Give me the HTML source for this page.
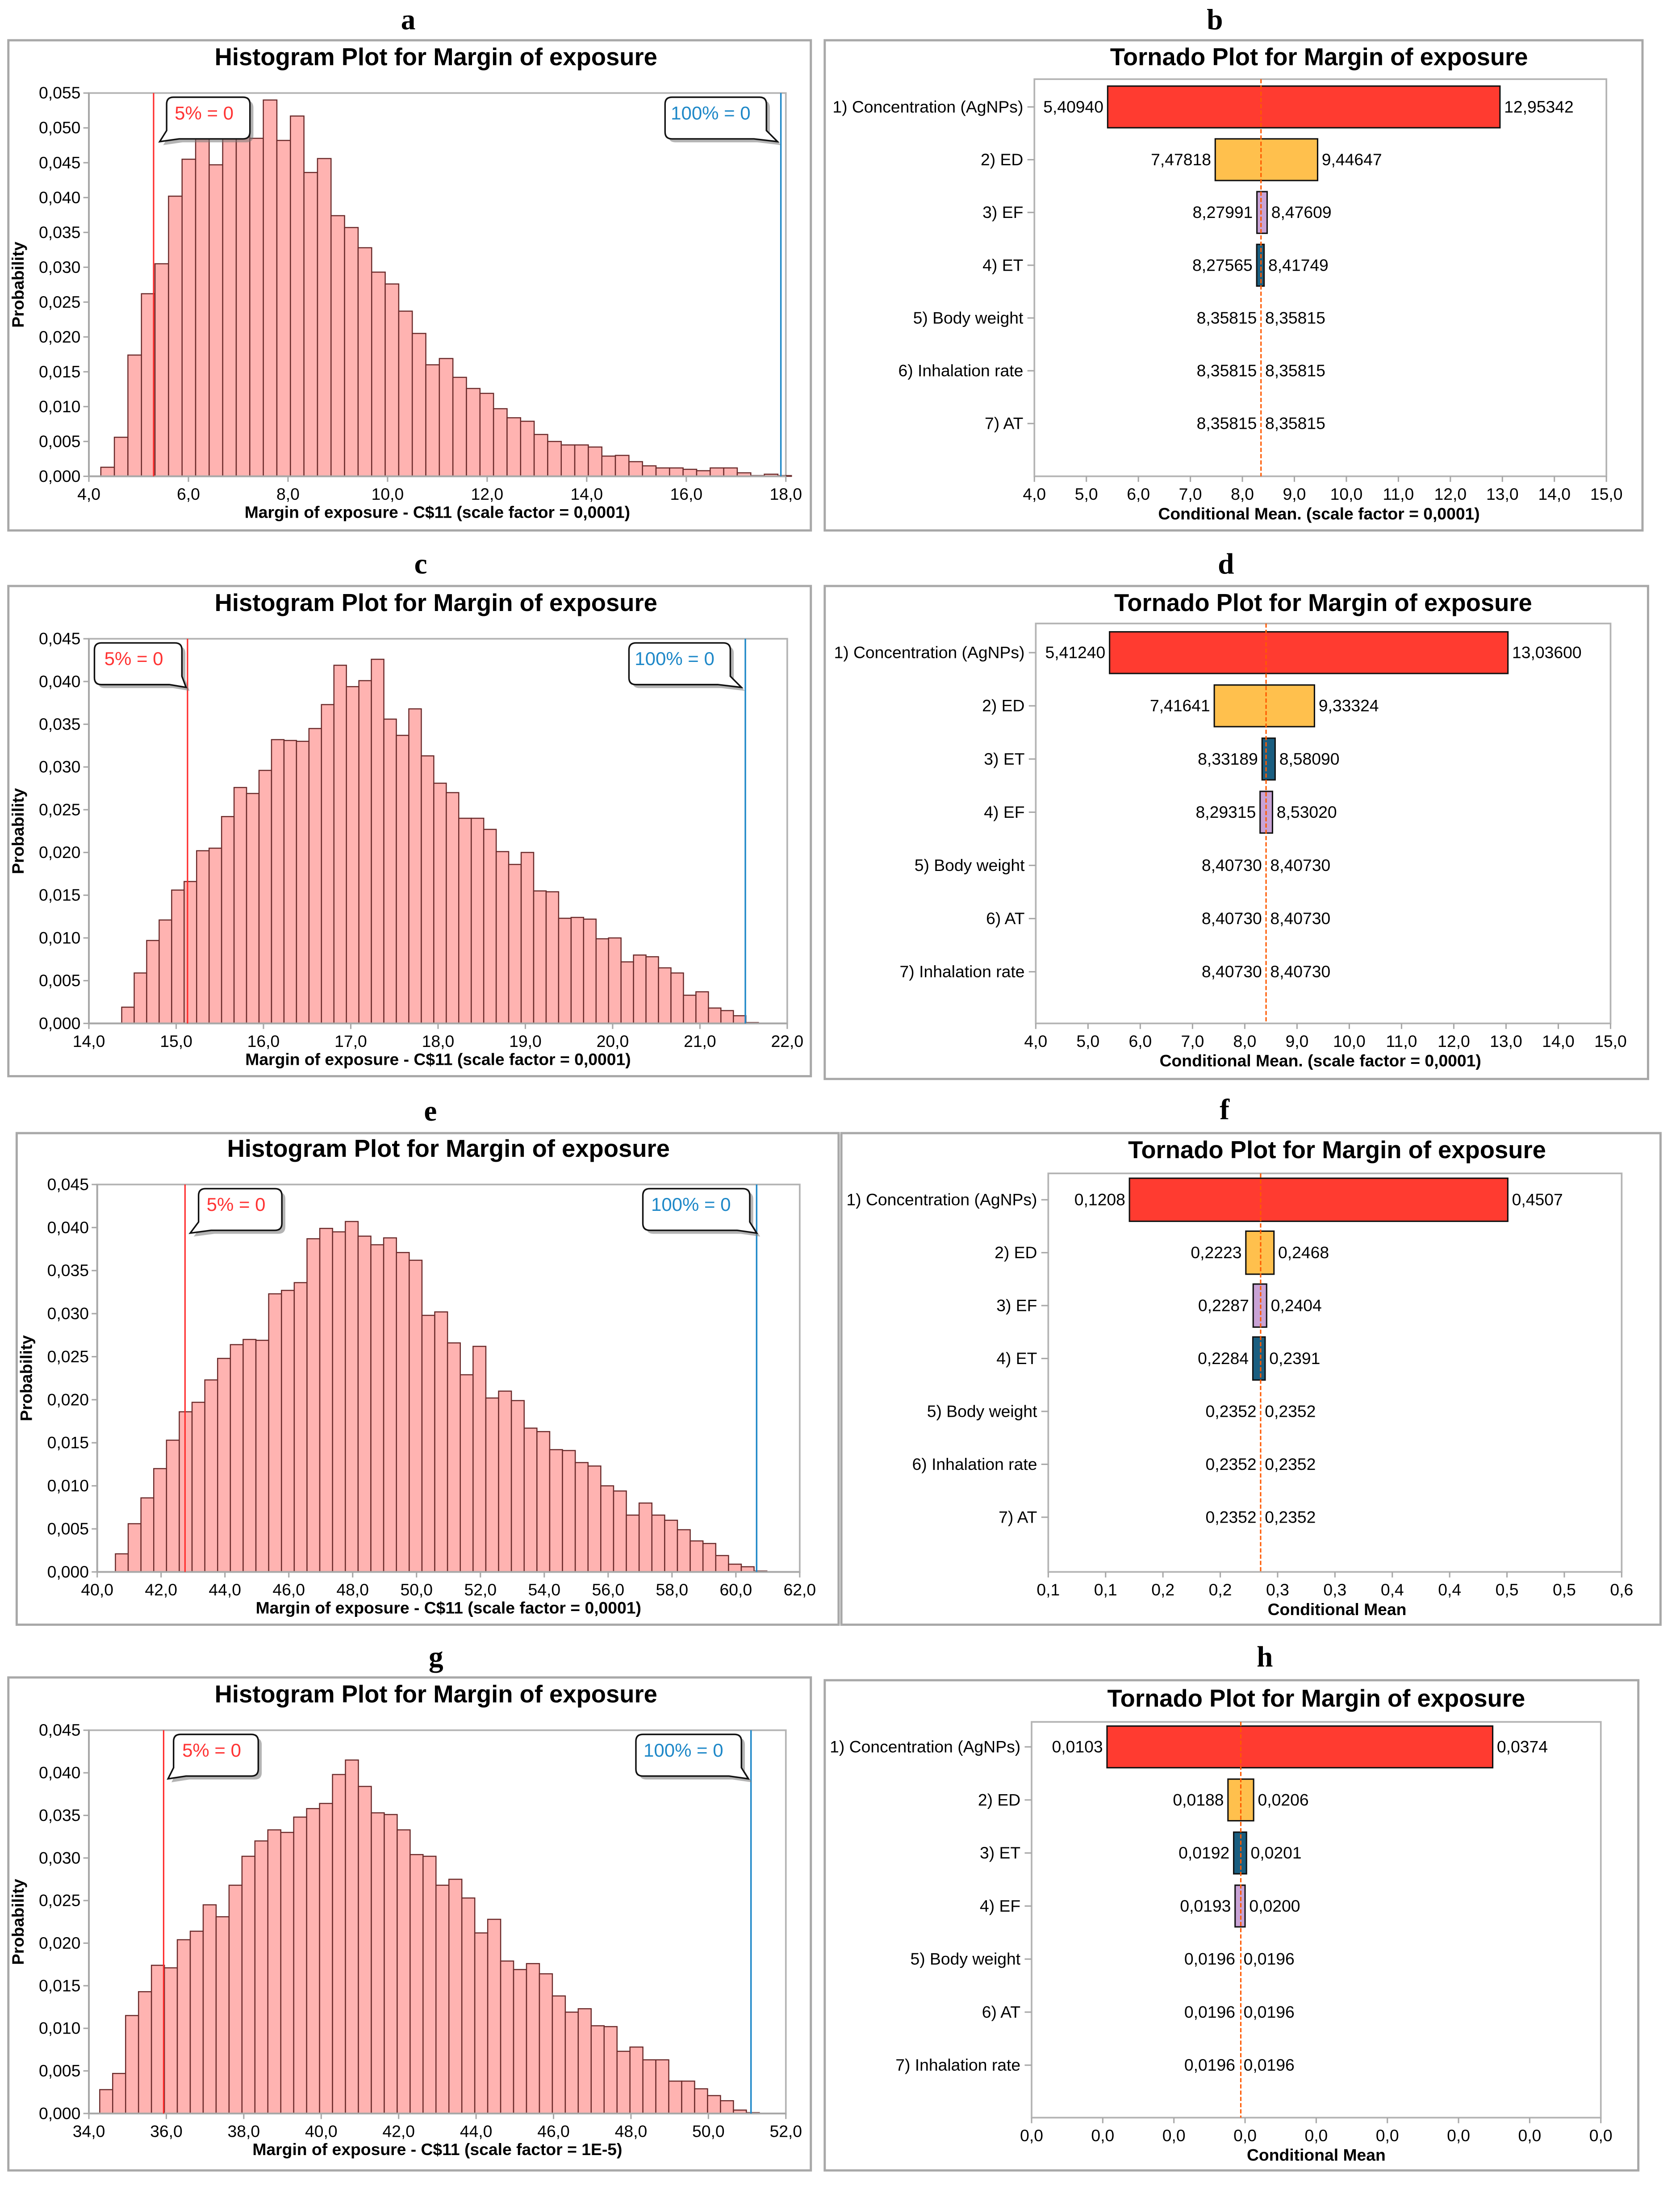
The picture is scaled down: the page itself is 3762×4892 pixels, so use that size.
<!DOCTYPE html>
<html><head><meta charset="utf-8">
<style>
html,body{margin:0;padding:0;background:#fff;}
svg{display:block;}
text{font-family:"Liberation Sans Narrow","Liberation Sans",sans-serif;}
.ttl{font-family:"Liberation Sans Narrow","Liberation Sans",sans-serif;font-weight:bold;}
.pl{font-family:"Liberation Serif",serif;font-weight:bold;}
</style></head>
<body>
<svg id="fig" xmlns="http://www.w3.org/2000/svg" width="3762" height="4892" viewBox="0 0 1210 1573.5">
<rect x="0" y="0" width="1210" height="1573.5" fill="#fff"/>
</svg>
<script>
// ---------- Histogram data ----------
const histAValues = [0.0013,0.0056,0.0174,0.0262,0.0305,0.0402,0.0455,0.0493,0.0447,0.0493,0.051,0.0485,0.054,0.0482,0.0517,0.0436,0.0456,0.0374,0.0357,0.0328,0.0293,0.0276,0.0237,0.0205,0.016,0.0169,0.0142,0.0126,0.0119,0.0097,0.0084,0.0079,0.006,0.005,0.0045,0.0045,0.0042,0.0029,0.003,0.0021,0.0015,0.0012,0.0012,0.001,0.0008,0.0012,0.0012,0.0005,0.0001,0.0003,0.0001];
const histABins = [4.24, 0.272];
const histAXTicks = [4,6,8,10,12,14,16,18];
const histAYTicks = [0,0.005,0.01,0.015,0.02,0.025,0.03,0.035,0.04,0.045,0.05,0.055];
const histAMarkers = [5.3, 17.9];

const histCValues = [0.0019,0.0059,0.0097,0.0121,0.0156,0.0166,0.0202,0.0205,0.0242,0.0276,0.0269,0.0296,0.0332,0.0331,0.033,0.0345,0.0373,0.0419,0.0394,0.0401,0.0426,0.0356,0.0337,0.0368,0.0313,0.0281,0.027,0.024,0.024,0.0227,0.0201,0.0186,0.02,0.0155,0.0154,0.0123,0.0124,0.0122,0.0099,0.01,0.0072,0.008,0.0078,0.0065,0.0059,0.0033,0.0037,0.0018,0.0015,0.0009,0.0001];
const histCBins = [14.376, 0.143];
const histCXTicks = [14,15,16,17,18,19,20,21,22];
const histCYTicks = [0,0.005,0.01,0.015,0.02,0.025,0.03,0.035,0.04,0.045];
const histCMarkers = [15.13, 21.52];

const histEValues = [0.0021,0.0056,0.0086,0.012,0.0153,0.0186,0.0197,0.0223,0.0248,0.0264,0.027,0.0269,0.0323,0.0327,0.0336,0.0387,0.0399,0.0395,0.0407,0.039,0.038,0.0388,0.0371,0.0362,0.0298,0.0302,0.0266,0.0229,0.0262,0.0202,0.021,0.0199,0.0167,0.0163,0.0142,0.0141,0.0127,0.0123,0.01,0.0094,0.0066,0.008,0.0066,0.006,0.0049,0.0036,0.0033,0.0019,0.0009,0.0006,0.0001];
const histEBins = [40.57, 0.40];
const histEXTicks = [40,42,44,46,48,50,52,54,56,58,60,62];
const histEYTicks = [0,0.005,0.01,0.015,0.02,0.025,0.03,0.035,0.04,0.045];
const histEMarkers = [42.75, 60.65];

const histGValues = [0.0028,0.0047,0.0115,0.0143,0.0174,0.0171,0.0204,0.0214,0.0245,0.0231,0.0268,0.0302,0.032,0.0333,0.033,0.0348,0.0358,0.0364,0.0398,0.0415,0.0384,0.0353,0.0351,0.0333,0.0304,0.0302,0.0268,0.0275,0.0253,0.0212,0.0228,0.0179,0.0169,0.0176,0.0164,0.0138,0.0119,0.0123,0.0103,0.0102,0.0073,0.0078,0.0063,0.0063,0.0038,0.0038,0.0029,0.0021,0.0015,0.0004,0.0001];
const histGBins = [34.28, 0.334];
const histGXTicks = [34,36,38,40,42,44,46,48,50,52];
const histGYTicks = [0,0.005,0.01,0.015,0.02,0.025,0.03,0.035,0.04,0.045];
const histGMarkers = [35.93, 51.1];

// ---------- Tornado data ----------
const tornBLabels = ["1) Concentration (AgNPs)","2) ED","3) EF","4) ET","5) Body weight","6) Inhalation rate","7) AT"];
const tornBLow = [5.40940,7.47818,8.27991,8.27565,8.35815,8.35815,8.35815];
const tornBHigh = [12.95342,9.44647,8.47609,8.41749,8.35815,8.35815,8.35815];
const tornBLowTxt = ["5,40940","7,47818","8,27991","8,27565","8,35815","8,35815","8,35815"];
const tornBHighTxt = ["12,95342","9,44647","8,47609","8,41749","8,35815","8,35815","8,35815"];
const tornBTicks = [4,5,6,7,8,9,10,11,12,13,14,15];
const tornBTickTxt = ["4,0","5,0","6,0","7,0","8,0","9,0","10,0","11,0","12,0","13,0","14,0","15,0"];
const tornBMean = 8.358;

const tornDLabels = ["1) Concentration (AgNPs)","2) ED","3) ET","4) EF","5) Body weight","6) AT","7) Inhalation rate"];
const tornDLow = [5.41240,7.41641,8.33189,8.29315,8.40730,8.40730,8.40730];
const tornDHigh = [13.03600,9.33324,8.58090,8.53020,8.40730,8.40730,8.40730];
const tornDLowTxt = ["5,41240","7,41641","8,33189","8,29315","8,40730","8,40730","8,40730"];
const tornDHighTxt = ["13,03600","9,33324","8,58090","8,53020","8,40730","8,40730","8,40730"];
const tornDTicks = [4,5,6,7,8,9,10,11,12,13,14,15];
const tornDTickTxt = ["4,0","5,0","6,0","7,0","8,0","9,0","10,0","11,0","12,0","13,0","14,0","15,0"];
const tornDMean = 8.4073;

const tornFLabels = ["1) Concentration (AgNPs)","2) ED","3) EF","4) ET","5) Body weight","6) Inhalation rate","7) AT"];
const tornFLow = [0.1208,0.2223,0.2287,0.2284,0.2352,0.2352,0.2352];
const tornFHigh = [0.4507,0.2468,0.2404,0.2391,0.2352,0.2352,0.2352];
const tornFLowTxt = ["0,1208","0,2223","0,2287","0,2284","0,2352","0,2352","0,2352"];
const tornFHighTxt = ["0,4507","0,2468","0,2404","0,2391","0,2352","0,2352","0,2352"];
const tornFTicks = [0.05,0.1,0.15,0.2,0.25,0.3,0.35,0.4,0.45,0.5,0.55];
const tornFTickTxt = ["0,1","0,1","0,2","0,2","0,3","0,3","0,4","0,4","0,5","0,5","0,6"];
const tornFMean = 0.2352;

const tornHLabels = ["1) Concentration (AgNPs)","2) ED","3) ET","4) EF","5) Body weight","6) AT","7) Inhalation rate"];
const tornHLow = [0.0103,0.0188,0.0192,0.0193,0.0196,0.0196,0.0196];
const tornHHigh = [0.0374,0.0206,0.0201,0.0200,0.0196,0.0196,0.0196];
const tornHLowTxt = ["0,0103","0,0188","0,0192","0,0193","0,0196","0,0196","0,0196"];
const tornHHighTxt = ["0,0374","0,0206","0,0201","0,0200","0,0196","0,0196","0,0196"];
const tornHTicks = [0.005,0.01,0.015,0.02,0.025,0.03,0.035,0.04,0.045];
const tornHTickTxt = ["0,0","0,0","0,0","0,0","0,0","0,0","0,0","0,0","0,0"];
const tornHMean = 0.0197;

const colorMap = {"1) Concentration (AgNPs)":"#FF3B30","2) ED":"#FFC04D","EF":"#C9A3D6","ET":"#1A5E80"};

const NS="http://www.w3.org/2000/svg";
const fig=document.getElementById('fig');
function el(tag, attrs, parent, txt){
  const e=document.createElementNS(NS,tag);
  for(const k in attrs) e.setAttribute(k,attrs[k]);
  if(txt!==undefined) e.textContent=txt;
  (parent||fig).appendChild(e);
  return e;
}
function fmt(v,d){return v.toFixed(d).replace('.',',');}

function panelFrame(name, letter, lx, ly, bx, by, bw, bh, title, tx, ty){
  const g=el('g',{});
  
  
  const pl=el('text',{x:lx,y:ly,'text-anchor':'middle','font-size':21,class:'pl'},g,letter);
  
  
  el('rect',{x:bx,y:by,width:bw,height:bh,fill:'#fff',stroke:'#A8A8A8','stroke-width':1.6},g);
  const t=el('text',{x:tx,y:ty,'text-anchor':'middle','font-size':17.5,class:'ttl'},g,title);
  
  
  return g;
}

function callout(g, x0, x1, y0, y1, tipX, tipY, tailLeft, txt, color){
  const r=5;
  let d;
  if(tailLeft){
    d=`M${x0+r},${y0} H${x1-r} Q${x1},${y0} ${x1},${y0+r} V${y1-r} Q${x1},${y1} ${x1-r},${y1} H${x0+9} L${tipX},${tipY} L${x0},${y1-6} V${y0+r} Q${x0},${y0} ${x0+r},${y0} Z`;
  } else {
    d=`M${x0+r},${y0} H${x1-r} Q${x1},${y0} ${x1},${y0+r} V${y1-6} L${tipX},${tipY} L${x1-9},${y1} H${x0+r} Q${x0},${y1} ${x0},${y1-r} V${y0+r} Q${x0},${y0} ${x0+r},${y0} Z`;
  }
  el('path',{d:d,fill:'#777',opacity:0.55,transform:'translate(2.5,2.5)'},g);
  const p=el('path',{d:d,fill:'#fff',stroke:'#111','stroke-width':1.1},g);
  
  
  const t=el('text',{x:x0+(x1-x0)*0.45,y:y0+(y1-y0)*0.5+1,'text-anchor':'middle','font-size':13.5,fill:color},g,txt);
  
  
}

function histogram(cfg){
  const g=panelFrame(cfg.name, cfg.letter, cfg.lx, cfg.ly, cfg.bx, cfg.by, cfg.bw, cfg.bh, 'Histogram Plot for Margin of exposure', cfg.tx, cfg.ty);
  const P=cfg.plot; // [left, top, right, bottom]
  const xs=cfg.xTicks, ys=cfg.yTicks;
  const xMin=xs[0], xMax=xs[xs.length-1], yMax=ys[ys.length-1];
  const X=v=>P[0]+(v-xMin)/(xMax-xMin)*(P[2]-P[0]);
  const Y=v=>P[3]-v/yMax*(P[3]-P[1]);
  el('rect',{x:P[0],y:P[1],width:P[2]-P[0],height:P[3]-P[1],fill:'#fff',stroke:'#B4B4B4','stroke-width':1.2},g);
  // bars
  const bars=el('g',{},g);
  
  
  cfg.values.forEach((v,i)=>{
    const a=cfg.bins[0]+i*cfg.bins[1];
    const r=el('rect',{x:X(a),y:Y(v),width:X(a+cfg.bins[1])-X(a),height:P[3]-Y(v),fill:'#FFB3B1',stroke:'#6A2A2A','stroke-width':0.8},bars);
    
    
  });
  // axes lines
  el('line',{x1:P[0],y1:P[3],x2:P[2],y2:P[3],stroke:'#A8A8A8','stroke-width':1.3},g);
  el('line',{x1:P[0],y1:P[1],x2:P[0],y2:P[3],stroke:'#A8A8A8','stroke-width':1.3},g);
  ys.forEach(v=>{
    el('line',{x1:P[0]-4,y1:Y(v),x2:P[0],y2:Y(v),stroke:'#A8A8A8','stroke-width':1},g);
    const t=el('text',{x:P[0]-6,y:Y(v)+4,'text-anchor':'end','font-size':12},g,fmt(v,3));
    
    
  });
  xs.forEach(v=>{
    el('line',{x1:X(v),y1:P[3],x2:X(v),y2:P[3]+4,stroke:'#A8A8A8','stroke-width':1},g);
    const t=el('text',{x:X(v),y:P[3]+17,'text-anchor':'middle','font-size':12},g,fmt(v,1));
    
    
  });
  const xt=el('text',{x:(P[0]+P[2])/2,y:P[3]+30,'text-anchor':'middle','font-size':12,'font-weight':'bold'},g,cfg.xTitle);
  
  
  const yx=P[0]-47, yy=(P[1]+P[3])/2;
  const yt=el('text',{x:yx,y:yy,'text-anchor':'middle','font-size':12,'font-weight':'bold','font-family':'Liberation Sans, sans-serif',transform:`rotate(-90 ${yx} ${yy})`},g,'Probability');
  
  
  // markers
  const m5=el('line',{x1:X(cfg.markers[0]),y1:P[1],x2:X(cfg.markers[0]),y2:P[3],stroke:'#FF2A2A','stroke-width':1},g);
  
  
  const m100=el('line',{x1:X(cfg.markers[1]),y1:P[1],x2:X(cfg.markers[1]),y2:P[3],stroke:'#1E88C8','stroke-width':1.1},g);
  
  
  const c1=cfg.c5, c2=cfg.c100;
  callout(g,c1[0],c1[1],P[1]+3,P[1]+33,c1[2],P[1]+35,c1[3],'5% = 0','#FF3333');
  callout(g,c2[0],c2[1],P[1]+3,P[1]+33,c2[2],P[1]+35,c2[3],'100% = 0','#1E88C8');
}

function tornado(cfg){
  const g=panelFrame(cfg.name, cfg.letter, cfg.lx, cfg.ly, cfg.bx, cfg.by, cfg.bw, cfg.bh, 'Tornado Plot for Margin of exposure', cfg.tx, cfg.ty);
  const P=cfg.plot;
  const ts=cfg.ticks;
  const xMin=ts[0], xMax=ts[ts.length-1];
  const X=v=>P[0]+(v-xMin)/(xMax-xMin)*(P[2]-P[0]);
  const n=cfg.labels.length;
  const step=cfg.rowStep;
  const Yr=i=>cfg.row0+i*step;
  el('rect',{x:P[0],y:P[1],width:P[2]-P[0],height:P[3]-P[1],fill:'#fff',stroke:'#B4B4B4','stroke-width':1.2},g);
  const bh=cfg.barH;
  cfg.labels.forEach((lab,i)=>{
    const y=Yr(i);
    el('line',{x1:P[0]-5,y1:y,x2:P[0],y2:y,stroke:'#A8A8A8','stroke-width':1},g);
    const t=el('text',{x:P[0]-8,y:y+4,'text-anchor':'end','font-size':12},g,lab);
    
    
    const lo=cfg.low[i], hi=cfg.high[i];
    const key=lab.replace(/^\d\) /,'');
    const col=colorMap[lab]||colorMap[key]||'#ccc';
    if(hi>lo){
      const r=el('rect',{x:X(lo),y:y-bh/2,width:X(hi)-X(lo),height:bh,fill:col,stroke:'#111','stroke-width':1},g);
      
      
    }
    const lt=el('text',{x:X(lo)-3,y:y+4,'text-anchor':'end','font-size':12},g,cfg.lowTxt[i]);
    
    
    const ht=el('text',{x:X(hi)+3,y:y+4,'text-anchor':'start','font-size':12},g,cfg.highTxt[i]);
    
    
  });
  const ml=el('line',{x1:X(cfg.mean),y1:P[1],x2:X(cfg.mean),y2:P[3],stroke:'#FF5A00','stroke-width':1,'stroke-dasharray':'3,1.5'},g);
  
  
  ts.forEach((v,i)=>{
    el('line',{x1:X(v),y1:P[3],x2:X(v),y2:P[3]+4,stroke:'#A8A8A8','stroke-width':1},g);
    const t=el('text',{x:X(v),y:P[3]+17,'text-anchor':'middle','font-size':12},g,cfg.tickTxt[i]);
    
    
  });
  const xt=el('text',{x:cfg.xtX,y:P[3]+31,'text-anchor':'middle','font-size':12,'font-weight':'bold'},g,cfg.xTitle);
  
  
}

histogram({name:'histogram-a',letter:'a',lx:294,ly:21,bx:6,by:29,bw:578,bh:353,tx:314,ty:47,
  plot:[64,67,566,343],values:histAValues,bins:histABins,xTicks:histAXTicks,yTicks:histAYTicks,markers:histAMarkers,
  c5:[120,180,115,true],c100:[479,552,560,false],xTitle:'Margin of exposure - C$11 (scale factor = 0,0001)'});
histogram({name:'histogram-c',letter:'c',lx:303,ly:413,bx:6,by:422,bw:578,bh:353,tx:314,ty:440,
  plot:[64,460,567,737],values:histCValues,bins:histCBins,xTicks:histCXTicks,yTicks:histCYTicks,markers:histCMarkers,
  c5:[68,131,134,false],c100:[453,526,534,false],xTitle:'Margin of exposure - C$11 (scale factor = 0,0001)'});
histogram({name:'histogram-e',letter:'e',lx:310,ly:807,bx:12,by:816,bw:592,bh:354,tx:323,ty:833,
  plot:[70,853,576,1132],values:histEValues,bins:histEBins,xTicks:histEXTicks,yTicks:histEYTicks,markers:histEMarkers,
  c5:[143,203,137,true],c100:[463,540,545,false],xTitle:'Margin of exposure - C$11 (scale factor = 0,0001)'});
histogram({name:'histogram-g',letter:'g',lx:314,ly:1200,bx:6,by:1208,bw:578,bh:355,tx:314,ty:1226,
  plot:[64,1246,566,1522],values:histGValues,bins:histGBins,xTicks:histGXTicks,yTicks:histGYTicks,markers:histGMarkers,
  c5:[125,186,121,true],c100:[458,534,539,false],xTitle:'Margin of exposure - C$11 (scale factor = 1E-5)'});

tornado({name:'tornado-b',letter:'b',lx:875,ly:21,bx:594,by:29,bw:589,bh:353,tx:950,ty:47,
  plot:[745,57,1157,343],ticks:tornBTicks,tickTxt:tornBTickTxt,labels:tornBLabels,low:tornBLow,high:tornBHigh,
  lowTxt:tornBLowTxt,highTxt:tornBHighTxt,mean:tornBMean,row0:77,rowStep:38,barH:30,xtX:950,
  xTitle:'Conditional Mean. (scale factor = 0,0001)'});
tornado({name:'tornado-d',letter:'d',lx:883,ly:413,bx:594,by:422,bw:593,bh:355,tx:953,ty:440,
  plot:[746,449,1160,737],ticks:tornDTicks,tickTxt:tornDTickTxt,labels:tornDLabels,low:tornDLow,high:tornDHigh,
  lowTxt:tornDLowTxt,highTxt:tornDHighTxt,mean:tornDMean,row0:470,rowStep:38.3,barH:30,xtX:951,
  xTitle:'Conditional Mean. (scale factor = 0,0001)'});
tornado({name:'tornado-f',letter:'f',lx:882,ly:806,bx:606,by:816,bw:590,bh:354,tx:963,ty:834,
  plot:[755,845,1168,1132],ticks:tornFTicks,tickTxt:tornFTickTxt,labels:tornFLabels,low:tornFLow,high:tornFHigh,
  lowTxt:tornFLowTxt,highTxt:tornFHighTxt,mean:tornFMean,row0:864,rowStep:38.1,barH:31,xtX:963,
  xTitle:'Conditional Mean'});
tornado({name:'tornado-h',letter:'h',lx:911,ly:1200,bx:594,by:1210,bw:586,bh:353,tx:948,ty:1229,
  plot:[743,1240,1153,1525],ticks:tornHTicks,tickTxt:tornHTickTxt,labels:tornHLabels,low:tornHLow,high:tornHHigh,
  lowTxt:tornHLowTxt,highTxt:tornHHighTxt,mean:tornHMean,row0:1258,rowStep:38.2,barH:30,xtX:948,
  xTitle:'Conditional Mean'});
</script>
</body></html>
